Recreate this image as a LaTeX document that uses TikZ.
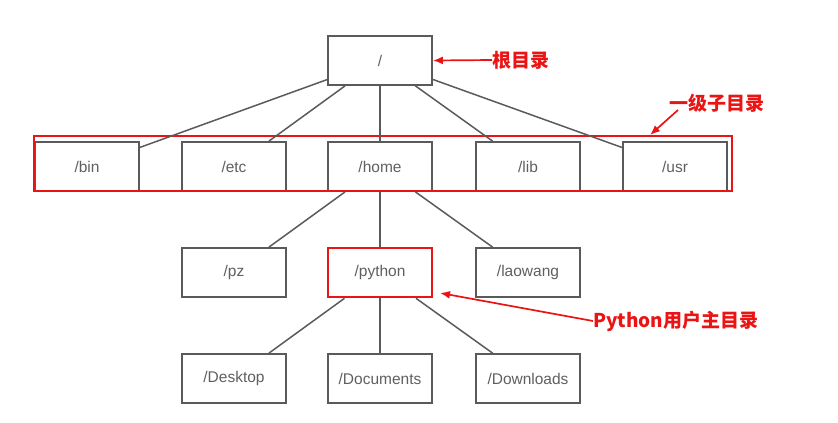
\documentclass[tikz,border=0pt]{standalone}
\usepackage{fontspec}
\setmainfont{Liberation Sans}
\newfontfamily\cjk{Noto Sans CJK SC}
\usetikzlibrary{arrows.meta}
\definecolor{boxgray}{RGB}{90,90,90}
\definecolor{txtgray}{RGB}{95,95,95}
\definecolor{myred}{RGB}{235,20,20}
\begin{document}
\begin{tikzpicture}[x=1pt,y=-1pt,
  dirbox/.style={draw=boxgray,line width=1.7pt,minimum width=104pt,minimum height=49pt,inner sep=0pt,text=txtgray,font=\fontsize{15.5}{18}\selectfont},
  hilite/.style={draw=myred,line width=2.6pt},
  link/.style={draw=boxgray,line width=1.5pt},
  redlabel/.style={text=myred,font=\cjk\bfseries\fontsize{19}{22}\selectfont,inner sep=0pt},
  redarrow/.style={draw=myred,line width=1.7pt,-{Latex[length=10pt,width=8pt]}},
  redframe/.style={draw=myred,line width=2.2pt,minimum width=698pt,minimum height=55pt,inner sep=0pt}
]
\useasboundingbox (0,0) rectangle (838,423);
% nodes
\node[dirbox] (root) at (380,60.5) {/};
\node[dirbox] (bin) at (87,166.5) {/bin};
\node[dirbox] (etc) at (234,166.5) {/etc};
\node[dirbox] (home) at (380,166.5) {/home};
\node[dirbox] (lib) at (528,166.5) {/lib};
\node[dirbox] (usr) at (675,166.5) {/usr};
\node[dirbox] (pz) at (234,272.5) {/pz};
\node[dirbox,hilite] (python) at (380,272.5) {/python};
\node[dirbox] (laowang) at (528,272.5) {/laowang};
\node[dirbox] (desktop) at (234,378.5) {/Desktop};
\node[dirbox] (documents) at (380,378.5) {/Documents};
\node[dirbox] (downloads) at (528,378.5) {/Downloads};
% frame around first level
\node[redframe] (level1) at (383,163.5) {};
% connectors
\foreach \c in {bin,etc,home,lib,usr} \draw[link] (root) -- (\c);
\foreach \c in {pz,python,laowang} \draw[link] (home) -- (\c);
\foreach \c in {desktop,documents,downloads} \draw[link] (python) -- (\c);
% labels
\node[redlabel,anchor=west] (lroot) at (492,60) {根目录};
\draw[redarrow] (lroot.west) -- (root.east);
\node[redlabel] (llevel) at (717,103) {一级子目录};
\coordinate (llevelstart) at (678,110);
\coordinate (llevelend) at (650,135);
\draw[redarrow] (llevelstart) -- (llevelend);
\node[redlabel,anchor=west] (lpython) at (593,321) {Python用户主目录};
\coordinate (lpythonend) at (440,293);
\draw[redarrow] (lpython.west) -- (lpythonend);
\end{tikzpicture}
\end{document}
